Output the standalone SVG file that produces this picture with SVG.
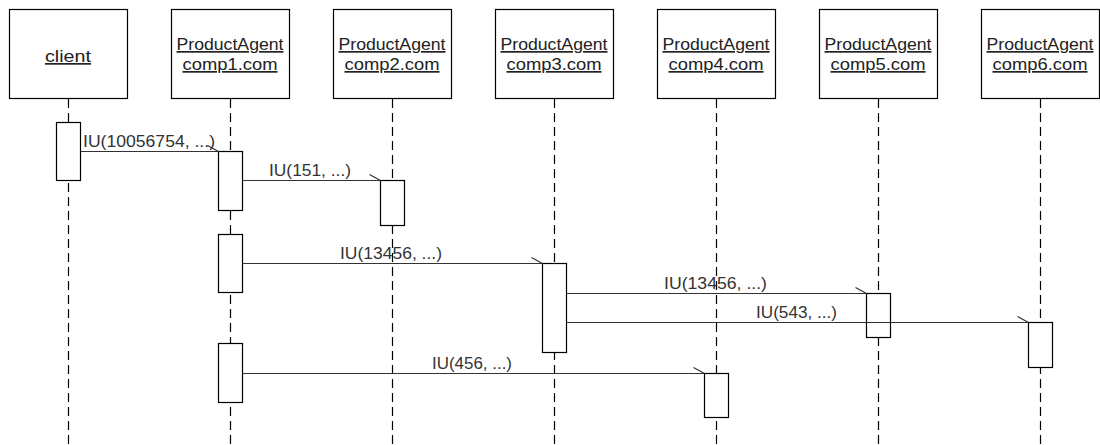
<svg xmlns="http://www.w3.org/2000/svg" width="1100" height="445" viewBox="0 0 1100 445">
<style>
.box{fill:#fff;stroke:#000;stroke-width:1.2}
.life{stroke:#000;stroke-width:1.2;stroke-dasharray:9 5;fill:none}
.act{fill:#fff;stroke:#000;stroke-width:1.2}
.lbl{font-family:"Liberation Sans",Arial,sans-serif;font-size:17px;fill:#222;text-anchor:middle;text-decoration:underline}
.msg{stroke:#333;stroke-width:1.2;fill:none}
.mt{font-family:"Liberation Sans",Arial,sans-serif;font-size:17px;fill:#333}
</style>
<rect width="1100" height="445" fill="#fff"/>
<g id="client">
<line class="life" x1="68.5" y1="99" x2="68.5" y2="445"/>
<rect class="box" x="9.5" y="9.5" width="118" height="89"/>
<text class="lbl" x="68" y="62" textLength="46" lengthAdjust="spacingAndGlyphs">client</text>
<rect class="act" x="56.5" y="122.5" width="24" height="58"/>
</g>
<g id="comp1">
<line class="life" x1="230.5" y1="99" x2="230.5" y2="445"/>
<rect class="box" x="171.5" y="9.5" width="118" height="89"/>
<text class="lbl" x="230" y="50" textLength="107" lengthAdjust="spacingAndGlyphs">ProductAgent</text>
<text class="lbl" x="230" y="70" textLength="95" lengthAdjust="spacingAndGlyphs">comp1.com</text>
<rect class="act" x="218.5" y="151.5" width="24" height="59"/>
<rect class="act" x="218.5" y="234.5" width="24" height="58"/>
<rect class="act" x="218.5" y="343.5" width="24" height="59"/>
</g>
<g id="comp2">
<line class="life" x1="392.5" y1="99" x2="392.5" y2="445"/>
<rect class="box" x="333.5" y="9.5" width="118" height="89"/>
<text class="lbl" x="392" y="50" textLength="107" lengthAdjust="spacingAndGlyphs">ProductAgent</text>
<text class="lbl" x="392" y="70" textLength="95" lengthAdjust="spacingAndGlyphs">comp2.com</text>
<rect class="act" x="380.5" y="180.5" width="24" height="45"/>
</g>
<g id="comp3">
<line class="life" x1="554.5" y1="99" x2="554.5" y2="445"/>
<rect class="box" x="495.5" y="9.5" width="118" height="89"/>
<text class="lbl" x="554" y="50" textLength="107" lengthAdjust="spacingAndGlyphs">ProductAgent</text>
<text class="lbl" x="554" y="70" textLength="95" lengthAdjust="spacingAndGlyphs">comp3.com</text>
<rect class="act" x="542.5" y="263.5" width="24" height="89"/>
</g>
<g id="comp4">
<line class="life" x1="716.5" y1="99" x2="716.5" y2="445"/>
<rect class="box" x="657.5" y="9.5" width="118" height="89"/>
<text class="lbl" x="716" y="50" textLength="107" lengthAdjust="spacingAndGlyphs">ProductAgent</text>
<text class="lbl" x="716" y="70" textLength="95" lengthAdjust="spacingAndGlyphs">comp4.com</text>
<rect class="act" x="704.5" y="373.5" width="24" height="44"/>
</g>
<g id="comp5">
<line class="life" x1="878.5" y1="99" x2="878.5" y2="445"/>
<rect class="box" x="819.5" y="9.5" width="118" height="89"/>
<text class="lbl" x="878" y="50" textLength="107" lengthAdjust="spacingAndGlyphs">ProductAgent</text>
<text class="lbl" x="878" y="70" textLength="95" lengthAdjust="spacingAndGlyphs">comp5.com</text>
<rect class="act" x="866.5" y="293.5" width="24" height="44"/>
</g>
<g id="comp6">
<line class="life" x1="1040.5" y1="99" x2="1040.5" y2="445"/>
<rect class="box" x="981.5" y="9.5" width="118" height="89"/>
<text class="lbl" x="1040" y="50" textLength="107" lengthAdjust="spacingAndGlyphs">ProductAgent</text>
<text class="lbl" x="1040" y="70" textLength="95" lengthAdjust="spacingAndGlyphs">comp6.com</text>
<rect class="act" x="1028.5" y="322.5" width="24" height="45"/>
</g>
<g id="connectors">
<polyline class="msg" points="80.5,151.5 218.5,151.5"/>
<line class="msg" x1="207.5" y1="145.5" x2="218.5" y2="151.5"/>
<text class="mt" x="83" y="147" textLength="132" lengthAdjust="spacingAndGlyphs">IU(10056754, ...)</text>

<polyline class="msg" points="242.5,180.5 380.5,180.5"/>
<line class="msg" x1="369.5" y1="174.5" x2="380.5" y2="180.5"/>
<text class="mt" x="269" y="176" textLength="82" lengthAdjust="spacingAndGlyphs">IU(151, ...)</text>

<polyline class="msg" points="242.5,263.5 542.5,263.5"/>
<line class="msg" x1="531.5" y1="257.5" x2="542.5" y2="263.5"/>
<text class="mt" x="340" y="259" textLength="102" lengthAdjust="spacingAndGlyphs">IU(13456, ...)</text>

<polyline class="msg" points="566.5,293.5 866.5,293.5"/>
<line class="msg" x1="855.5" y1="287.5" x2="866.5" y2="293.5"/>
<text class="mt" x="664" y="289" textLength="103" lengthAdjust="spacingAndGlyphs">IU(13456, ...)</text>

<polyline class="msg" points="566.5,322.5 1028.5,322.5"/>
<line class="msg" x1="1017.5" y1="316.5" x2="1028.5" y2="322.5"/>
<text class="mt" x="756" y="318" textLength="81" lengthAdjust="spacingAndGlyphs">IU(543, ...)</text>

<polyline class="msg" points="242.5,373.5 704.5,373.5"/>
<line class="msg" x1="693.5" y1="367.5" x2="704.5" y2="373.5"/>
<text class="mt" x="432" y="369" textLength="80" lengthAdjust="spacingAndGlyphs">IU(456, ...)</text>
</g>
</svg>
